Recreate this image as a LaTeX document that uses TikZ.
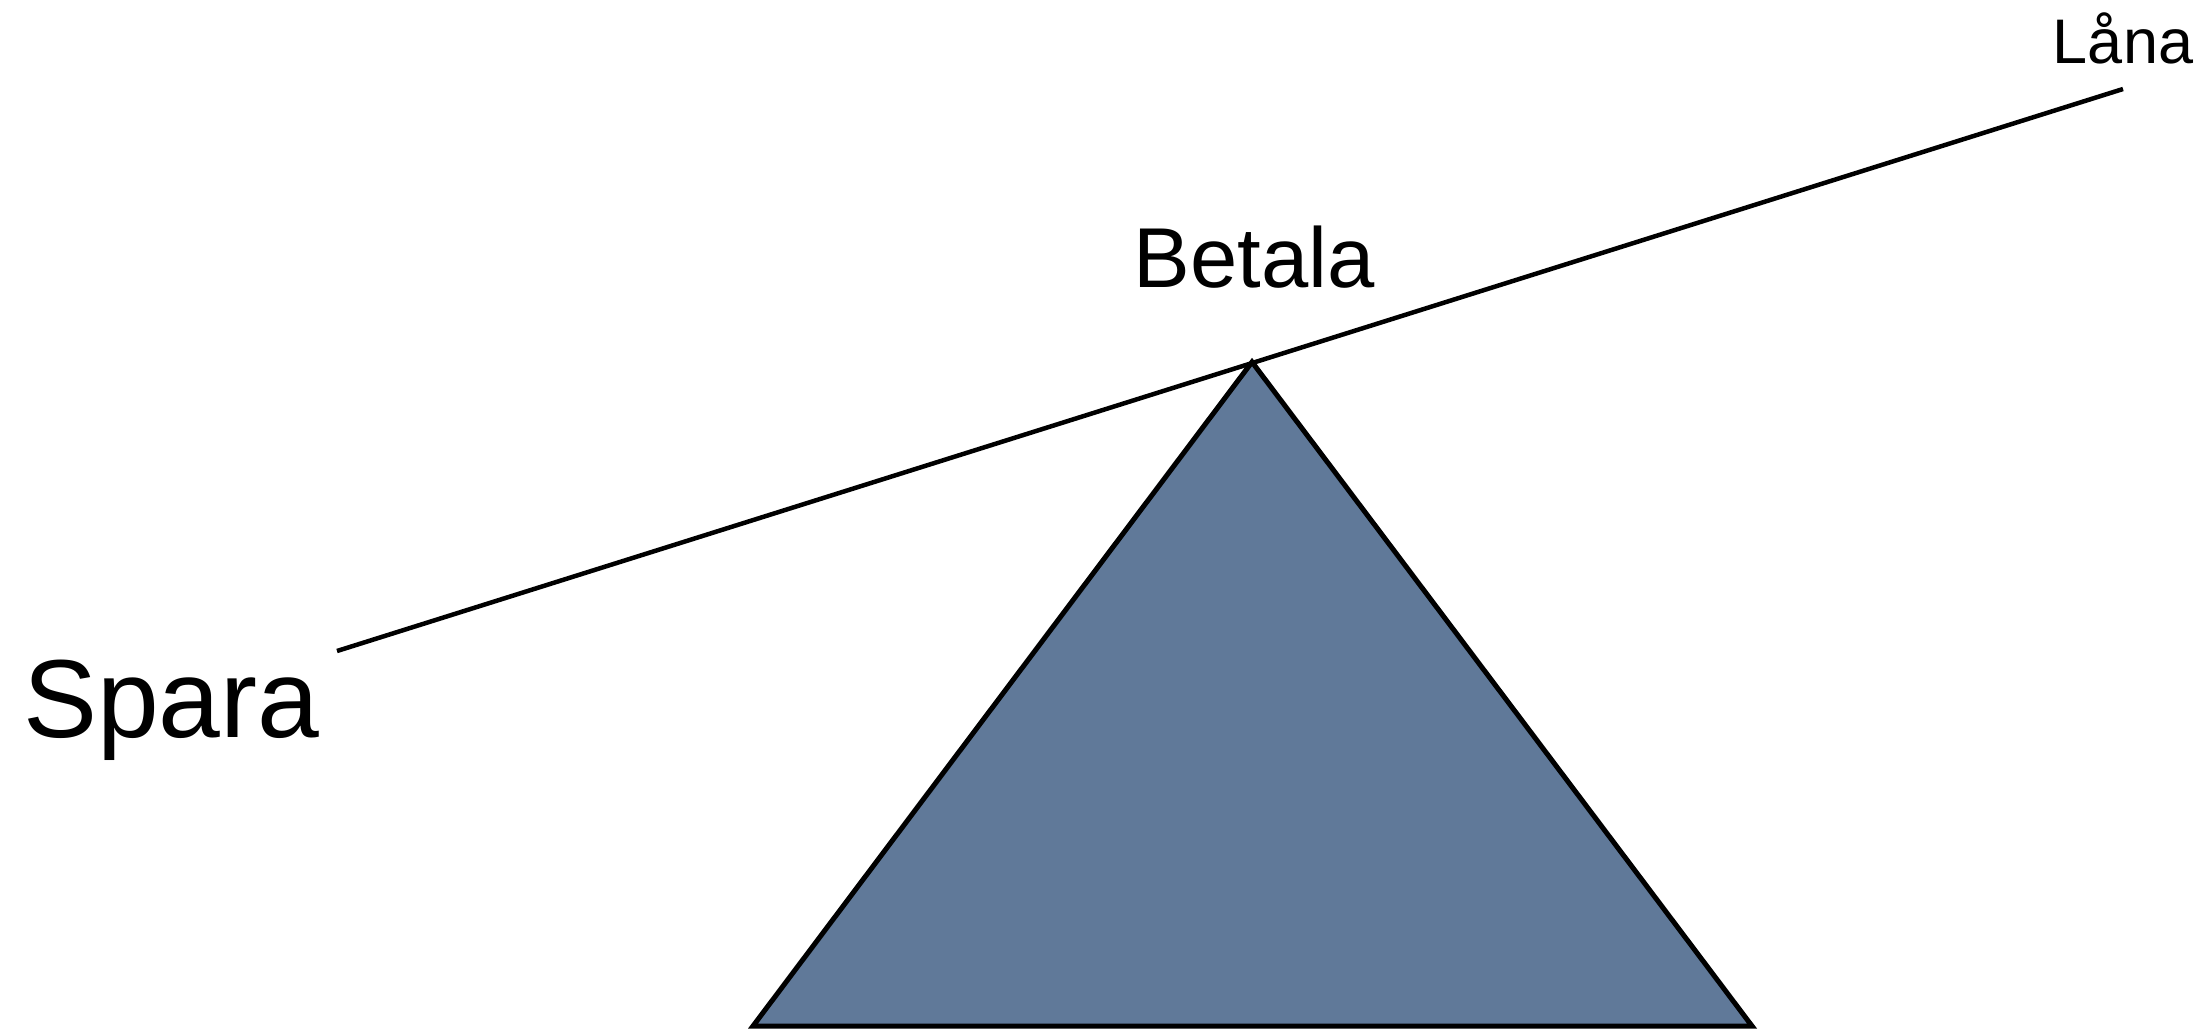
\documentclass[tikz,border=0pt]{standalone}
\usepackage{fontspec}
\setmainfont{Liberation Sans}
\definecolor{wedge}{RGB}{96,121,153}
\tikzset{
  lbl/.style={inner sep=0pt, anchor=base, text=black},
  beam/.style={line width=4.5pt, black},
  fulcrum/.style={fill=wedge, draw=black, line width=5pt, line join=miter}
}
\begin{document}
\begin{tikzpicture}[x=1pt,y=-1pt]
\useasboundingbox (0,0) rectangle (2208,1029);
\fill[white] (0,0) rectangle (2208,1029);
% fulcrum
\coordinate (apex) at (1252,362);
\coordinate (bl) at (753,1026);
\coordinate (br) at (1752,1026);
\draw[fulcrum] (apex) -- (br) -- (bl) -- cycle;
% beam
\coordinate (bstart) at (337,651);
\coordinate (bend) at (2123,89);
\draw[beam] (bstart) -- (bend);
% labels
\node[lbl, anchor=base west] (spara) at (23,737) {\fontsize{111}{125}\selectfont Spara};
\node[lbl] (betala) at (1254,287) {\fontsize{85}{100}\selectfont Betala};
\node[lbl] (lana) at (2123,63) {\fontsize{63}{70}\selectfont Låna};
\end{tikzpicture}
\end{document}
